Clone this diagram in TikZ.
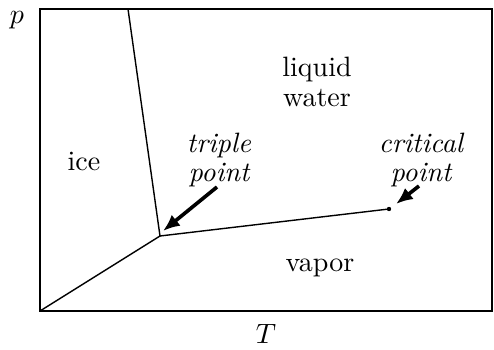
\documentclass[tikz,border=0pt]{standalone}
\usetikzlibrary{arrows.meta}
\begin{document}
\begin{tikzpicture}[x=0.357pt,y=-0.357pt,
  phase/.style={line width=0.5pt},
  lbl/.style={align=center,inner sep=0pt,font={\fontsize{10}{10.7}\selectfont}},
  ilbl/.style={align=center,inner sep=0pt,font={\itshape\fontsize{10}{10.2}\selectfont}},
  pointer/.style={line width=1.3pt,-{Latex[length=6pt,width=5pt]}}]
\useasboundingbox (0,0) rectangle (494,350);
\draw[line width=0.6pt] (40,9) rectangle (492,311);
\coordinate (origin) at (40,311);
\coordinate (top) at (128,9);
\coordinate (tp) at (160,236);
\coordinate (cp) at (389,209);
\draw[phase] (top) -- (tp) -- (origin);
\draw[phase] (tp) -- (cp);
\fill (cp) circle (2.2);
\node[lbl] (liquid) at (317,82) {liquid\\water};
\node[lbl] (ice) at (84,161) {ice};
\node[lbl] (vapor) at (320,268) {vapor};
\node[ilbl] (triple) at (219,160) {triple\\point};
\node[ilbl] (critical) at (421,160) {critical\\point};
\coordinate (ta) at (217,187);
\coordinate (th) at (163,231);
\coordinate (ca) at (419,186);
\coordinate (ch) at (396,204);
\draw[pointer] (ta) -- (th);
\draw[pointer] (ca) -- (ch);
\node (p) at (17,20) {$p$};
\node (T) at (266,334) {$T$};
\end{tikzpicture}
\end{document}
